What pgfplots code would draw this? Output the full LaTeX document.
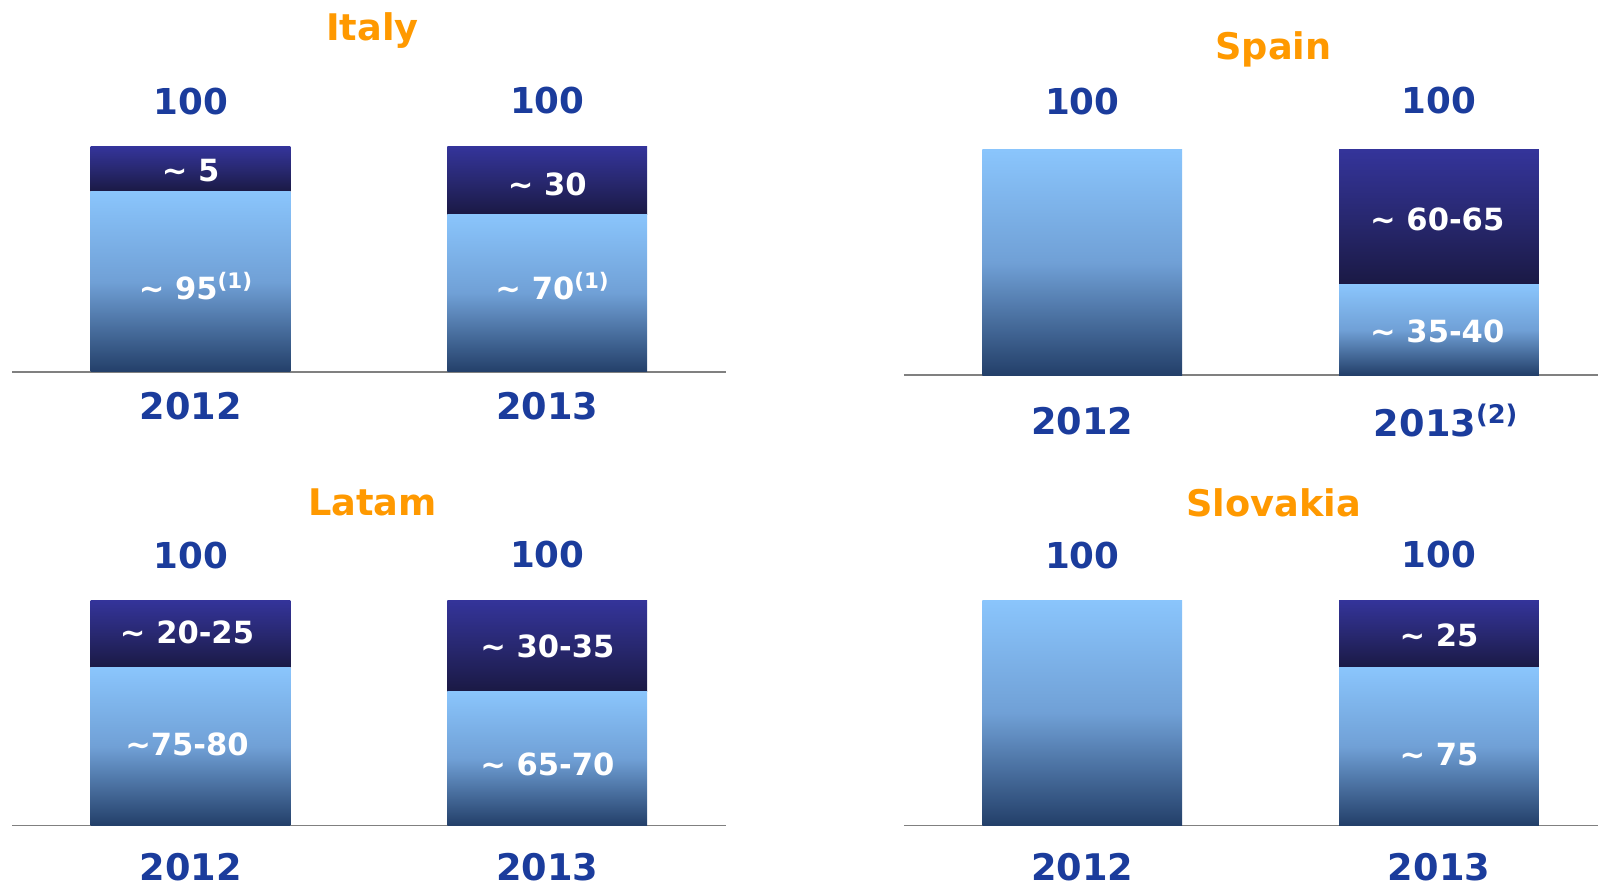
\documentclass[border=0pt]{standalone}
\usepackage{pgfplots}
\pgfplotsset{compat=1.18}
\usepackage{fontspec}
\setmainfont{DejaVu Sans}

\definecolor{ltop}{HTML}{8AC5FC}
\definecolor{lmid}{HTML}{70A0D6}
\definecolor{lbot}{HTML}{233F69}
\definecolor{dtop}{HTML}{34349A}
\definecolor{dmid}{HTML}{282870}
\definecolor{dbot}{HTML}{1A1944}
\definecolor{hdblue}{HTML}{1B3C9C}
\definecolor{orng}{HTML}{FF9900}

\pgfplotsset{
  panel/.style={
    scale only axis, width=350pt, height=110.5pt,
    xmin=-0.5, xmax=1.5, ymin=0, ymax=100,
    ybar stacked, bar width=0.56,
    hide y axis, axis x line*=bottom,
    x axis line style={color=gray, line width=0.7pt},
    xtick=\empty, clip=false,
  },
  right/.style={width=340.5pt, xmax=1.4457},
  light/.style={draw=none, top color=ltop, bottom color=lbot, middle color=lmid},
  dark/.style={draw=none, top color=dtop, bottom color=dbot, middle color=dmid},
}
\tikzset{
  hd/.style={font=\fontsize{17.5}{20}\selectfont\bfseries, text=hdblue},
  yr/.style={font=\fontsize{18}{20}\selectfont\bfseries, text=hdblue},
  tt/.style={font=\fontsize{18}{20}\selectfont\bfseries, text=orng},
  inl/.style={font=\fontsize{15}{17}\selectfont\bfseries, text=white},
}
\newcommand{\ap}{\textasciitilde}

\begin{document}
\begin{tikzpicture}
\useasboundingbox (0,0) rectangle (784pt,435pt);

% Italy
\begin{axis}[panel, at={(6pt,252.5pt)}, anchor=south west]
  \addplot[light] coordinates {(0,80)};
  \addplot[dark] coordinates {(0,20)};
\end{axis}
\begin{axis}[panel, hide x axis, at={(6pt,252.5pt)}, anchor=south west]
  \addplot[light] coordinates {(1,70)};
  \addplot[dark] coordinates {(1,30)};
\end{axis}
\begin{axis}[panel, hide axis, at={(6pt,252.5pt)}, anchor=south west]
  \node[tt] at (axis cs:0.51,0) [yshift=167.5pt] {Italy};
  \node[hd] at (axis cs:0,100) [yshift=22pt] {100};
  \node[hd] at (axis cs:1,100) [yshift=22.5pt] {100};
  \node[yr] at (axis cs:0,0) [yshift=-17pt] {2012};
  \node[yr] at (axis cs:1,0) [yshift=-17pt] {2013};
  \node[inl] at (axis cs:0,89.6) {\ap\ 5};
  \node[inl] at (axis cs:0.015,38) {\ap\ 95\textsuperscript{(1)}};
  \node[inl] at (axis cs:1,83.3) {\ap\ 30};
  \node[inl] at (axis cs:1.015,38) {\ap\ 70\textsuperscript{(1)}};
\end{axis}

% Spain
\begin{axis}[panel, right, at={(443.5pt,251pt)}, anchor=south west]
  \addplot[light] coordinates {(0,100)};
\end{axis}
\begin{axis}[panel, right, hide x axis, at={(443.5pt,251pt)}, anchor=south west]
  \addplot[light] coordinates {(1,40)};
  \addplot[dark] coordinates {(1,60)};
\end{axis}
\begin{axis}[panel, right, hide axis, at={(443.5pt,251pt)}, anchor=south west]
  \node[tt] at (axis cs:0.536,0) [yshift=160pt] {Spain};
  \node[hd] at (axis cs:0,100) [yshift=23.5pt] {100};
  \node[hd] at (axis cs:1,100) [yshift=24pt] {100};
  \node[yr] at (axis cs:0,0) [yshift=-22.5pt] {2012};
  \node[yr] at (axis cs:1.02,0) [yshift=-22.5pt] {2013\textsuperscript{(2)}};
  \node[inl] at (axis cs:0.995,69.2) {\ap\ 60-65};
  \node[inl] at (axis cs:0.995,19.5) {\ap\ 35-40};
\end{axis}

% Latam
\begin{axis}[panel, at={(6pt,30pt)}, anchor=south west]
  \addplot[light] coordinates {(0,70)};
  \addplot[dark] coordinates {(0,30)};
\end{axis}
\begin{axis}[panel, hide x axis, at={(6pt,30pt)}, anchor=south west]
  \addplot[light] coordinates {(1,59.5)};
  \addplot[dark] coordinates {(1,40.5)};
\end{axis}
\begin{axis}[panel, hide axis, at={(6pt,30pt)}, anchor=south west]
  \node[tt] at (axis cs:0.51,0) [yshift=158.5pt] {Latam};
  \node[hd] at (axis cs:0,100) [yshift=22pt] {100};
  \node[hd] at (axis cs:1,100) [yshift=22.5pt] {100};
  \node[yr] at (axis cs:0,0) [yshift=-20.5pt] {2012};
  \node[yr] at (axis cs:1,0) [yshift=-20.5pt] {2013};
  \node[inl] at (axis cs:-0.01,85.9) {\ap\ 20-25};
  \node[inl] at (axis cs:-0.01,35.9) {\ap75-80};
  \node[inl] at (axis cs:1.0,79.5) {\ap\ 30-35};
  \node[inl] at (axis cs:1.0,27.3) {\ap\ 65-70};
\end{axis}

% Slovakia
\begin{axis}[panel, right, at={(443.5pt,30pt)}, anchor=south west]
  \addplot[light] coordinates {(0,100)};
\end{axis}
\begin{axis}[panel, right, hide x axis, at={(443.5pt,30pt)}, anchor=south west]
  \addplot[light] coordinates {(1,70)};
  \addplot[dark] coordinates {(1,30)};
\end{axis}
\begin{axis}[panel, right, hide axis, at={(443.5pt,30pt)}, anchor=south west]
  \node[tt] at (axis cs:0.536,0) [yshift=158.5pt] {Slovakia};
  \node[hd] at (axis cs:0,100) [yshift=22pt] {100};
  \node[hd] at (axis cs:1,100) [yshift=22.5pt] {100};
  \node[yr] at (axis cs:0,0) [yshift=-20.5pt] {2012};
  \node[yr] at (axis cs:1,0) [yshift=-20.5pt] {2013};
  \node[inl] at (axis cs:1,84.5) {\ap\ 25};
  \node[inl] at (axis cs:1,31.4) {\ap\ 75};
\end{axis}
\end{tikzpicture}
\end{document}
